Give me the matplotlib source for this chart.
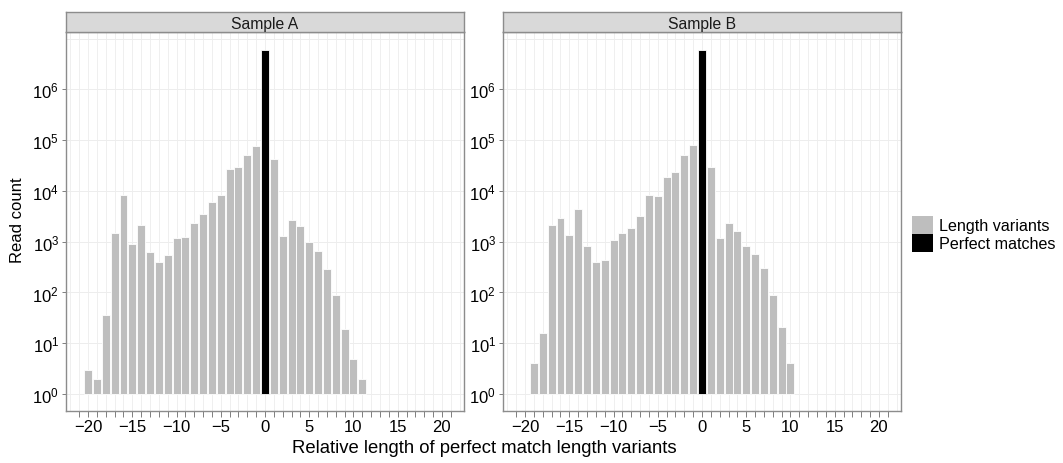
import numpy as np
import matplotlib
matplotlib.use("Agg")
import matplotlib.pyplot as plt
from matplotlib.patches import Patch
from matplotlib.ticker import FixedLocator, LogFormatterSciNotation, NullLocator

plt.rcParams["font.family"] = ["Liberation Sans", "DejaVu Sans"]
plt.rcParams["mathtext.fontset"] = "custom"
plt.rcParams["mathtext.rm"] = "Liberation Sans"
plt.rcParams["mathtext.it"] = "Liberation Sans:italic"

# read counts per relative length
a_lengths = list(range(-20, 12))
a_counts = [3, 2, 36, 1450, 8300, 890, 2150, 620, 390, 535, 1170, 1230, 2300,
            3550, 6150, 8450, 27000, 29500, 51000, 78000, 6.0e6, 43000, 1320,
            2700, 2050, 1000, 645, 290, 89, 19, 5, 2]

b_lengths = list(range(-19, 11))
b_counts = [4, 16, 2150, 2950, 1380, 4500, 810, 400, 430, 1070, 1490, 1850,
            3200, 8300, 8100, 18500, 23300, 50000, 80000, 5.9e6, 29500, 1200,
            2300, 1590, 810, 585, 310, 88, 21, 4]

panels = ["Sample A", "Sample B"]
legend_labels = ["Length variants", "Perfect matches"]
grey = "#bebebe"
W, H = 1063, 464


def draw_panel(fig, left, title, lengths, counts):
    ax = fig.add_axes([left / W, (H - 412) / H, 398 / W, 379 / H])
    lengths = np.array(lengths)
    counts = np.array(counts, dtype=float)
    colors = ["black" if x == 0 else grey for x in lengths]
    ax.bar(lengths, counts - 1, bottom=1, width=0.9, color=colors,
           edgecolor="white", linewidth=0.6, zorder=2)
    ax.set_yscale("log")
    ax.set_ylim(10 ** -0.335, 10 ** 7.13)
    ax.set_xlim(-22.5, 22.5)

    ax.yaxis.set_major_locator(FixedLocator([10.0 ** k for k in range(7)]))
    ax.yaxis.set_major_formatter(LogFormatterSciNotation())
    ax.yaxis.set_minor_locator(NullLocator())
    ax.set_xticks(range(-20, 21, 5))
    ax.set_xticklabels([str(v).replace("-", "\u2212") for v in range(-20, 21, 5)])
    ax.set_xticks(range(-21, 22), minor=True)

    for x in range(-22, 23):
        ax.axvline(x, color="#efefef", lw=0.7, zorder=0)
    for k in range(8):
        ax.axhline(10.0 ** k, color="#ededed", lw=0.7, zorder=0)

    ax.tick_params(axis="both", which="both", color="#7f7f7f", labelsize=12,
                   labelcolor="black")
    ax.tick_params(axis="x", which="both", length=4, width=0.7, pad=2)
    ax.tick_params(axis="y", length=3, width=0.7, pad=2)
    for s in ax.spines.values():
        s.set_color("#8c8c8c")
        s.set_linewidth(1.0)

    strip = fig.add_axes([left / W, (H - 33) / H, 398 / W, 20 / H])
    strip.set_facecolor("#d9d9d9")
    strip.set_xticks([])
    strip.set_yticks([])
    for s in strip.spines.values():
        s.set_color("#8c8c8c")
        s.set_linewidth(1.0)
    strip.text(0.5, 0.45, title, ha="center", va="center", fontsize=11.3,
               color="#1a1a1a", transform=strip.transAxes)
    return ax


fig = plt.figure(figsize=(W / 100, H / 100), dpi=100)
draw_panel(fig, 66, panels[0], a_lengths, a_counts)
draw_panel(fig, 503, panels[1], b_lengths, b_counts)

fig.text(18 / W, 1 - 220 / H, "Read count", rotation=90, ha="center",
         va="center", fontsize=12)
fig.text(484 / W, 1 - 449 / H, "Relative length of perfect match length variants",
         ha="center", va="center", fontsize=13.3)

handles = [Patch(facecolor=grey, edgecolor="none"),
           Patch(facecolor="black", edgecolor="none")]
fig.legend(handles, legend_labels, loc="center left",
           bbox_to_anchor=(912 / W, 1 - 235 / H), frameon=False, fontsize=11.6,
           handlelength=1.3, handleheight=1.35, handletextpad=0.35,
           labelspacing=0.0, borderaxespad=0, borderpad=0)

fig.savefig("out.png", dpi=100)
plt.close(fig)
